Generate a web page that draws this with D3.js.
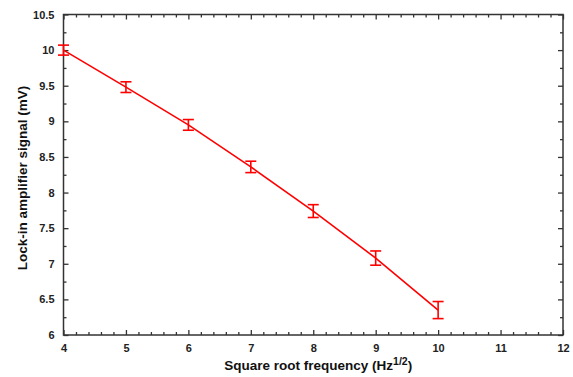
<!DOCTYPE html>
<html>
<head>
<meta charset="utf-8">
<script src="https://cdn.jsdelivr.net/npm/d3@7"></script>
<style>
  body { margin: 0; background: #fff; }
  .tick text { font-family: "Liberation Sans Narrow", "Arial Narrow", "Liberation Sans", sans-serif; font-weight: bold; font-size: 11px; fill: #222; }
  .title { font-family: "Liberation Sans", Arial, sans-serif; font-weight: bold; font-size: 13.5px; fill: #111; }
</style>
</head>
<body>
<div id="chart"></div>
<script>
const width = 573;
const height = 377;

// data
const freqRoot = [4, 5, 6, 7, 8, 9, 10];
const signal = [10.0, 9.48, 8.95, 8.36, 7.74, 7.08, 6.35];
const errs = [0.07, 0.075, 0.075, 0.08, 0.09, 0.1, 0.12];

const xTicks = [4, 5, 6, 7, 8, 9, 10, 11, 12];
const yTicks = [6, 6.5, 7, 7.5, 8, 8.5, 9, 9.5, 10, 10.5];

const margin = { top: 14.5, right: 10, bottom: 42, left: 63.5 };

const svg = d3.select('#chart').append('svg')
    .attr('width', width)
    .attr('height', height);

const x = d3.scaleLinear()
    .domain([4, 12])
    .range([margin.left, width - margin.right]);

const y = d3.scaleLinear()
    .domain([6, 10.5])
    .range([height - margin.bottom, margin.top]);

const axisColor = '#333';

// minor ticks
const xMinor = d3.range(4, 12.001, 0.2).filter(v => Math.abs(v - Math.round(v)) > 0.01);
const yMinor = d3.range(6.25, 10.5, 0.5);

function styleAxis(g) {
    g.select('.domain').remove();
    g.selectAll('.tick line').attr('stroke', axisColor).attr('stroke-width', 1.3);
}

// bottom axis (ticks inward)
svg.append('g')
    .attr('transform', `translate(0,${y(6)})`)
    .call(d3.axisBottom(x).tickValues(xTicks).tickSize(-5).tickPadding(9).tickFormat(d3.format('d')))
    .call(styleAxis);
svg.append('g')
    .attr('transform', `translate(0,${y(6)})`)
    .call(d3.axisBottom(x).tickValues(xMinor).tickSize(-3).tickFormat(''))
    .call(styleAxis);

// top axis mirrored
svg.append('g')
    .attr('transform', `translate(0,${y(10.5)})`)
    .call(d3.axisTop(x).tickValues(xTicks).tickSize(-5).tickFormat(''))
    .call(styleAxis);
svg.append('g')
    .attr('transform', `translate(0,${y(10.5)})`)
    .call(d3.axisTop(x).tickValues(xMinor).tickSize(-3).tickFormat(''))
    .call(styleAxis);

// left axis
svg.append('g')
    .attr('transform', `translate(${x(4)},0)`)
    .call(d3.axisLeft(y).tickValues(yTicks).tickSize(-5).tickPadding(9).tickFormat(d => d3.format('')(d)))
    .call(styleAxis);
svg.append('g')
    .attr('transform', `translate(${x(4)},0)`)
    .call(d3.axisLeft(y).tickValues(yMinor).tickSize(-3).tickFormat(''))
    .call(styleAxis);

// right axis mirrored
svg.append('g')
    .attr('transform', `translate(${x(12)},0)`)
    .call(d3.axisRight(y).tickValues(yTicks).tickSize(-5).tickFormat(''))
    .call(styleAxis);
svg.append('g')
    .attr('transform', `translate(${x(12)},0)`)
    .call(d3.axisRight(y).tickValues(yMinor).tickSize(-3).tickFormat(''))
    .call(styleAxis);

// frame
svg.append('rect')
    .attr('x', x(4))
    .attr('y', y(10.5))
    .attr('width', x(12) - x(4))
    .attr('height', y(6) - y(10.5))
    .attr('fill', 'none')
    .attr('stroke', axisColor)
    .attr('stroke-width', 1.5);

const points = freqRoot.map((f, i) => ({ f: f, v: signal[i], e: errs[i] }));

// line
svg.append('path')
    .datum(points)
    .attr('d', d3.line().x(d => x(d.f)).y(d => y(d.v)))
    .attr('fill', 'none')
    .attr('stroke', '#ff0000')
    .attr('stroke-width', 1.6);

// error bars
const capW = 5.5;
const bars = svg.selectAll('.err')
    .data(points)
    .join('g')
    .attr('class', 'err')
    .attr('stroke', '#ff0000')
    .attr('stroke-width', 1.6);

bars.append('line')
    .attr('x1', d => x(d.f)).attr('x2', d => x(d.f))
    .attr('y1', d => y(d.v + d.e)).attr('y2', d => y(d.v - d.e));
bars.append('line')
    .attr('x1', d => x(d.f) - capW).attr('x2', d => x(d.f) + capW)
    .attr('y1', d => y(d.v + d.e)).attr('y2', d => y(d.v + d.e));
bars.append('line')
    .attr('x1', d => x(d.f) - capW).attr('x2', d => x(d.f) + capW)
    .attr('y1', d => y(d.v - d.e)).attr('y2', d => y(d.v - d.e));

// axis titles
const xt = svg.append('text')
    .attr('class', 'title')
    .attr('x', (x(4) + x(12)) / 2 + 5)
    .attr('y', 370)
    .attr('text-anchor', 'middle');
xt.append('tspan').text('Square root frequency (Hz');
xt.append('tspan').attr('dy', -5).attr('font-size', '10.5px').text('1/2');
xt.append('tspan').attr('dy', 5).text(')');

svg.append('text')
    .attr('class', 'title')
    .attr('transform', `translate(27,178) rotate(-90)`)
    .attr('text-anchor', 'middle')
    .text('Lock-in amplifier signal (mV)');
</script>
</body>
</html>
